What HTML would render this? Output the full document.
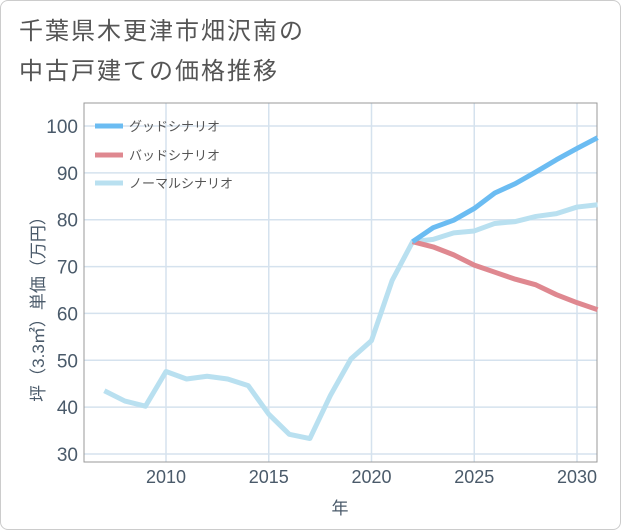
<!DOCTYPE html>
<html><head><meta charset="utf-8"><style>
body{margin:0;background:#fff}
#wrap{position:relative;width:619px;height:528px;border:1px solid #ccc;border-radius:8px;overflow:hidden;font-family:"Liberation Sans","Noto Sans CJK JP",sans-serif}
.title{position:absolute;left:18px;top:11px;font-size:24px;letter-spacing:2px;line-height:40px;color:#555}
</style></head><body>
<div id="wrap">
<div class="title">千葉県木更津市畑沢南の<br>中古戸建ての価格推移</div>
<svg id="chart" width="621" height="530" style="position:absolute;left:-1px;top:-1px"></svg>
</div>
<script>
const years=[2007,2008,2009,2010,2011,2012,2013,2014,2015,2016,2017,2018,2019,2020,2021,2022,2023,2024,2025,2026,2027,2028,2029,2030,2031];
const normalVals=[43.5,41.3,40.2,47.6,46,46.6,46,44.6,38.5,34.2,33.3,42.5,50.3,54.2,67,75.3,75.8,77.2,77.6,79.2,79.6,80.7,81.3,82.7,83.2];
const goodYears=[2022,2023,2024,2025,2026,2027,2028,2029,2030,2031];
const goodVals=[75.3,78.3,79.9,82.4,85.7,87.7,90.2,92.8,95.2,97.5];
const badVals=[75.3,74.2,72.5,70.3,68.8,67.3,66.1,64,62.3,60.8];
const yTicks=[30,40,50,60,70,80,90,100];
const xTicks=[2010,2015,2020,2025,2030];
const NS="http://www.w3.org/2000/svg";
const svg=document.getElementById('chart');
const L=84,R=597,T=103,B=462;
const x=v=>166+(v-2010)*20.55;
const y=v=>454-(v-30)*(328/70);
function mk(t,a){const e=document.createElementNS(NS,t);for(const k in a)e.setAttribute(k,a[k]);svg.appendChild(e);return e;}
yTicks.forEach(v=>{const l=mk('line',{x1:L,x2:R,y1:y(v),y2:y(v),stroke:'#d5e2ee','stroke-width':1.5});


const t=mk('text',{x:L-6,y:y(v)+7,'text-anchor':'end','font-size':19,fill:'#4a5a6a'});t.textContent=v;

});
xTicks.forEach(v=>{const l=mk('line',{x1:x(v),x2:x(v),y1:T,y2:B,stroke:'#d5e2ee','stroke-width':1.5});


const t=mk('text',{x:x(v),y:B+21,'text-anchor':'middle','font-size':18,fill:'#4a5a6a'});t.textContent=v;

});
const fr=mk('rect',{x:L,y:T,width:R-L,height:B-T,fill:'none',stroke:'#999','stroke-width':1});


function line(xs,vs,c,n){const p=mk('polyline',{points:xs.map((d,i)=>x(d)+','+y(vs[i])).join(' '),fill:'none',stroke:c,'stroke-width':5,'stroke-linejoin':'round'});

}
line(years,normalVals,'#b9e0f0','normal-series-line');
line(goodYears,badVals,'#df8890','bad-series-line');
line(goodYears,goodVals,'#6bbcf2','good-series-line');
const leg=[['グッドシナリオ','#6bbcf2',126],['バッドシナリオ','#df8890',155],['ノーマルシナリオ','#b9e0f0',183]];
leg.forEach(([s,c,yy])=>{const l=mk('line',{x1:95,x2:123,y1:yy,y2:yy,stroke:c,'stroke-width':5});


const t=mk('text',{x:129,y:yy+5,'font-size':13,fill:'#555'});t.textContent=s;

});
const yt=mk('text',{x:0,y:0,'font-size':17,fill:'#4a5a6a','text-anchor':'middle',transform:'translate(44,305) rotate(-90)'});yt.textContent='坪（3.3㎡）単価（万円）';


const xt=mk('text',{x:340,y:514,'font-size':17,fill:'#4a5a6a','text-anchor':'middle'});xt.textContent='年';


</script>
</body></html>
